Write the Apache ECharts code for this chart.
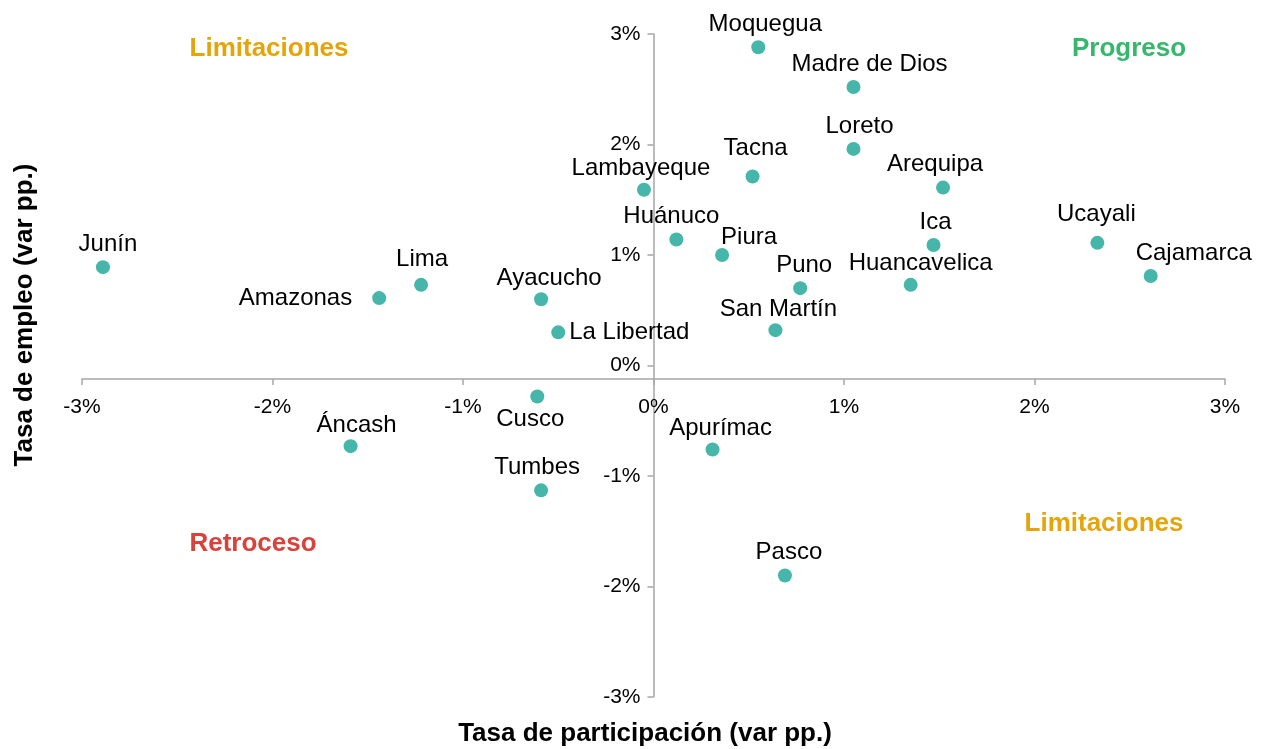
<!DOCTYPE html>
<html><head><meta charset="utf-8">
<script src="https://cdn.jsdelivr.net/npm/echarts@6/dist/echarts.min.js"></script>
<style>html,body{margin:0;padding:0;background:#fff}#c{width:1261px;height:749px}</style>
</head><body><div id="c"></div>
<script>
// Data (percentage points)
const regions = ['Moquegua','Madre de Dios','Loreto','Tacna','Lambayeque','Arequipa','Huánuco','Piura','Ica','Ucayali','Cajamarca','Junín','Lima','Amazonas','Ayacucho','La Libertad','Puno','Huancavelica','San Martín','Cusco','Áncash','Tumbes','Apurímac','Pasco'];
const participacion = [0.55, 1.05, 1.05, 0.52, -0.05, 1.52, 0.12, 0.36, 1.47, 2.33, 2.61, -2.89, -1.22, -1.44, -0.59, -0.50, 0.77, 1.35, 0.64, -0.61, -1.59, -0.59, 0.31, 0.69];
const empleo = [2.88, 2.52, 1.96, 1.71, 1.59, 1.61, 1.14, 1.00, 1.09, 1.11, 0.81, 0.89, 0.73, 0.61, 0.60, 0.30, 0.70, 0.73, 0.32, -0.28, -0.73, -1.13, -0.76, -1.90];
const xTickValues = [-3, -2, -1, 0, 1, 2, 3];
const yTickValues = [-3, -2, -1, 0, 1, 2, 3];

// Label placement (style only)
const labelStyle = {
  'Moquegua': ['top', [7, 0]], 'Madre de Dios': ['top', [16, 0]], 'Loreto': ['top', [6, 0]],
  'Tacna': ['top', [3, -5]], 'Lambayeque': ['top', [-3, 2]], 'Arequipa': ['top', [-8, 0]],
  'Huánuco': ['top', [-5, 0]], 'Piura': ['top', [27, 5]], 'Ica': ['top', [2, 0]],
  'Ucayali': ['top', [-1, -5]], 'Cajamarca': ['top', [43, 0]], 'Junín': ['top', [5, 0]],
  'Lima': ['top', [1, -2]], 'Amazonas': ['left', [0, 0]], 'Ayacucho': ['top', [8, 2]],
  'La Libertad': ['right', [0, 0]], 'Puno': ['top', [4, 0]], 'Huancavelica': ['top', [10, 2]],
  'San Martín': ['top', [3, 2]], 'Cusco': ['bottom', [-7, 0]], 'Áncash': ['top', [6, 2]],
  'Tumbes': ['top', [-4, 0]], 'Apurímac': ['top', [8, 2]], 'Pasco': ['top', [4, 0]]
};

const FONT = '"Liberation Sans", Arial, sans-serif';
const data = regions.map((r, i) => {
  const ls = labelStyle[r] || ['top', [0, 0]];
  return {
    name: r,
    value: [participacion[i], empleo[i]],
    label: { position: ls[0], offset: ls[1], distance: ls[0] === 'left' ? 20 : 4 }
  };
});

const chart = echarts.init(document.getElementById('c'), null, { renderer: 'canvas' });
chart.setOption({
  animation: false,
  backgroundColor: '#ffffff',
  grid: { left: 82, right: 36, top: 34, bottom: 52 },
  xAxis: {
    type: 'value', min: xTickValues[0], max: xTickValues[xTickValues.length - 1], interval: 1,
    axisLine: { onZero: false, lineStyle: { color: '#a6a6a6', width: 1.5 } },
    offset: -318,
    axisTick: { show: true, length: 6, lineStyle: { color: '#a6a6a6', width: 1.5 } },
    axisLabel: { formatter: v => v + '%', color: '#000', fontFamily: FONT, fontSize: 21, margin: 18 },
    splitLine: { show: false }
  },
  yAxis: {
    type: 'value', min: yTickValues[0], max: yTickValues[yTickValues.length - 1], interval: 1,
    axisLine: { onZero: false, lineStyle: { color: '#a6a6a6', width: 1.5 } },
    offset: -571.5,
    axisTick: { show: true, length: 6, lineStyle: { color: '#a6a6a6', width: 1.5 } },
    axisLabel: { formatter: v => v + '%', color: '#000', fontFamily: FONT, fontSize: 21, margin: 13 },
    splitLine: { show: false }
  },
  series: [{
    type: 'scatter',
    data: data,
    symbolSize: 14,
    itemStyle: { color: '#47b6aa', opacity: 1 },
    label: { show: true, formatter: p => p.name, color: '#000', fontFamily: FONT, fontSize: 24 },
    z: 5
  }],
  graphic: [
    { type: 'text', x: 269, y: 49, style: { text: 'Limitaciones', fill: '#e5a50a', font: 'bold 26px ' + FONT, textAlign: 'center', textVerticalAlign: 'middle' } },
    { type: 'text', x: 1129, y: 49, style: { text: 'Progreso', fill: '#36b76b', font: 'bold 26px ' + FONT, textAlign: 'center', textVerticalAlign: 'middle' } },
    { type: 'text', x: 1104, y: 524, style: { text: 'Limitaciones', fill: '#e5a50a', font: 'bold 26px ' + FONT, textAlign: 'center', textVerticalAlign: 'middle' } },
    { type: 'text', x: 253, y: 544, style: { text: 'Retroceso', fill: '#d9413b', font: 'bold 26px ' + FONT, textAlign: 'center', textVerticalAlign: 'middle' } },
    { type: 'text', x: 645, y: 734, style: { text: 'Tasa de participación (var pp.)', fill: '#000', font: 'bold 26px ' + FONT, textAlign: 'center', textVerticalAlign: 'middle' } },
    { type: 'text', x: 25, y: 315, rotation: Math.PI / 2, style: { text: 'Tasa de empleo (var pp.)', fill: '#000', font: 'bold 26px ' + FONT, textAlign: 'center', textVerticalAlign: 'middle' } }
  ]
});
</script>
</body></html>
